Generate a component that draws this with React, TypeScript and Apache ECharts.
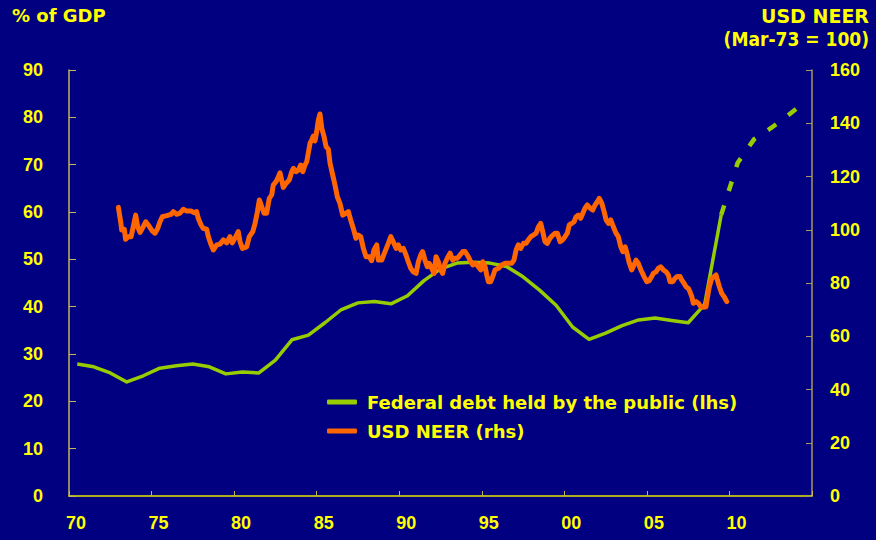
import React, { useEffect, useRef } from "react";
import * as echarts from "echarts";

const debtYears = [
  1970.5, 1971.5, 1972.5, 1973.5, 1974.5, 1975.5, 1976.5, 1977.5, 1978.5, 1979.5,
  1980.5, 1981.5, 1982.5, 1983.5, 1984.5, 1985.5, 1986.5, 1987.5, 1988.5, 1989.5,
  1990.5, 1991.5, 1992.5, 1993.5, 1994.5, 1995.5, 1996.5, 1997.5, 1998.5, 1999.5,
  2000.5, 2001.5, 2002.5, 2003.5, 2004.5, 2005.5, 2006.5, 2007.5, 2008.5, 2009.5,
];
const debtValues = [
  27.9, 27.3, 26.0, 24.1, 25.4, 27.0, 27.5, 27.9, 27.3, 25.8,
  26.2, 26.0, 28.7, 33.0, 34.0, 36.6, 39.4, 40.8, 41.1, 40.6,
  42.3, 45.5, 48.0, 49.2, 49.4, 49.2, 48.5, 46.3, 43.5, 40.3,
  35.7, 33.1, 34.4, 36.0, 37.2, 37.6, 37.1, 36.6, 40.5, 59.4,
];
const projYears = [2009.5, 2010.5, 2011.5, 2012.5, 2013.5, 2014.5];
const projValues = [59.4, 70.4, 75.4, 77.7, 80.3, 83.0];

const neerDates = [
  1972.99, 1973.13, 1973.19, 1973.35, 1973.43, 1973.59, 1973.76, 1973.89, 1974.04, 1974.16,
  1974.3, 1974.44, 1974.65, 1974.85, 1975.05, 1975.21, 1975.37, 1975.51, 1975.65, 1975.92,
  1976.18, 1976.32, 1976.52, 1976.72, 1976.92, 1977.13, 1977.39, 1977.59, 1977.73, 1977.83,
  1978.0, 1978.13, 1978.34, 1978.44, 1978.6, 1978.74, 1978.95, 1979.15, 1979.35, 1979.55,
  1979.75, 1979.89, 1980.1, 1980.25, 1980.36, 1980.5, 1980.76, 1980.92, 1981.13, 1981.27,
  1981.41, 1981.53, 1981.67, 1981.81, 1981.97, 1982.13, 1982.28, 1982.37, 1982.54, 1982.68,
  1982.78, 1982.88, 1982.98, 1983.14, 1983.34, 1983.49, 1983.59, 1983.75, 1983.89, 1984.03,
  1984.16, 1984.29, 1984.4, 1984.49, 1984.6, 1984.7, 1984.8, 1984.9, 1985.0, 1985.1,
  1985.2, 1985.31, 1985.45, 1985.57, 1985.71, 1985.81, 1985.97, 1986.11, 1986.25, 1986.41,
  1986.58, 1986.78, 1986.92, 1987.06, 1987.22, 1987.38, 1987.52, 1987.67, 1987.83, 1987.99,
  1988.19, 1988.33, 1988.47, 1988.64, 1988.73, 1988.94, 1989.14, 1989.34, 1989.49, 1989.64,
  1989.81, 1989.95, 1990.09, 1990.25, 1990.41, 1990.55, 1990.7, 1990.85, 1991.02, 1991.16,
  1991.3, 1991.42, 1991.56, 1991.7, 1991.82, 1991.97, 1992.11, 1992.23, 1992.37, 1992.51,
  1992.63, 1992.77, 1992.91, 1993.08, 1993.24, 1993.38, 1993.52, 1993.68, 1993.85, 1993.99,
  1994.13, 1994.29, 1994.45, 1994.65, 1994.79, 1994.94, 1995.06, 1995.2, 1995.3, 1995.4,
  1995.54, 1995.66, 1995.8, 1996.0, 1996.21, 1996.41, 1996.61, 1996.81, 1996.95, 1997.08,
  1997.21, 1997.36, 1997.52, 1997.68, 1997.82, 1997.97, 1998.12, 1998.29, 1998.43, 1998.57,
  1998.69, 1998.83, 1998.97, 1999.13, 1999.3, 1999.44, 1999.58, 1999.74, 1999.9, 2000.04,
  2000.18, 2000.3, 2000.45, 2000.59, 2000.71, 2000.85, 2000.99, 2001.12, 2001.25, 2001.39,
  2001.56, 2001.72, 2001.86, 2002.0, 2002.12, 2002.27, 2002.41, 2002.53, 2002.67, 2002.81,
  2002.97, 2003.13, 2003.27, 2003.42, 2003.54, 2003.68, 2003.82, 2003.94, 2004.08, 2004.22,
  2004.34, 2004.48, 2004.64, 2004.83, 2004.99, 2005.15, 2005.29, 2005.39, 2005.55, 2005.69,
  2005.84, 2006.0, 2006.16, 2006.3, 2006.4, 2006.57, 2006.71, 2006.84, 2007.01, 2007.11,
  2007.25, 2007.37, 2007.51, 2007.61, 2007.72, 2007.81, 2007.98, 2008.12, 2008.26, 2008.42,
  2008.58, 2008.66, 2008.78, 2008.93, 2009.07, 2009.19, 2009.27, 2009.39, 2009.53, 2009.67,
  2009.84,
];
const neerValues = [
  108.4, 103.0, 99.9, 100.2, 96.4, 97.4, 97.4, 101.1, 105.5, 101.1,
  99.0, 100.5, 103.0, 101.4, 99.5, 98.7, 100.5, 103.0, 104.9, 105.3,
  105.8, 106.8, 105.8, 106.2, 107.7, 107.0, 107.0, 106.4, 106.8, 104.3,
  101.8, 100.5, 100.2, 97.4, 94.5, 92.4, 94.3, 94.6, 96.2, 95.1,
  97.4, 95.1, 97.4, 99.3, 95.5, 93.0, 93.6, 97.4, 99.3, 102.4,
  106.8, 111.2, 108.7, 106.2, 106.2, 111.8, 113.1, 116.8, 118.1, 119.9,
  121.4, 118.7, 115.9, 117.4, 118.7, 121.8, 123.1, 121.8, 122.4, 124.3,
  121.8, 124.3, 125.6, 128.7, 132.5, 133.7, 135.2, 133.4, 136.8, 141.2,
  143.5, 138.1, 134.9, 131.2, 130.2, 125.0, 120.6, 116.8, 112.4, 109.9,
  105.5, 106.2, 106.8, 103.7, 100.5, 96.8, 98.0, 97.4, 93.0, 89.9,
  89.9, 88.4, 92.4, 94.3, 88.6, 88.6, 91.8, 94.9, 97.4, 95.5,
  93.0, 94.3, 92.4, 93.0, 90.5, 88.0, 85.5, 84.2, 83.6, 88.0,
  90.5, 91.8, 88.6, 86.1, 87.4, 85.5, 83.6, 89.9, 88.0, 84.9,
  83.6, 87.4, 89.3, 91.2, 88.6, 89.3, 89.3, 90.5, 91.8, 91.8,
  90.5, 88.6, 86.8, 87.4, 86.1, 84.9, 88.0, 86.1, 83.0, 80.5,
  80.5, 82.4, 84.9, 85.5, 86.8, 87.4, 87.4, 87.4, 88.6, 92.4,
  94.3, 93.0, 94.9, 94.9, 96.2, 97.4, 98.0, 98.7, 101.1, 102.4,
  99.3, 95.5, 94.9, 96.8, 98.0, 98.7, 98.7, 95.5, 96.2, 97.4,
  98.7, 101.8, 102.4, 103.0, 104.9, 105.5, 104.3, 106.2, 108.1, 109.3,
  108.1, 107.4, 109.3, 110.5, 111.8, 109.9, 106.8, 103.7, 102.4, 103.7,
  101.1, 98.7, 97.4, 93.6, 91.8, 93.6, 90.5, 87.4, 84.9, 86.8,
  88.6, 87.4, 84.9, 82.4, 80.5, 80.9, 82.4, 83.6, 84.2, 85.5,
  86.1, 84.9, 84.2, 83.0, 80.5, 80.5, 81.8, 82.4, 82.4, 81.1,
  79.9, 78.6, 78.0, 76.7, 74.9, 72.4, 73.0, 72.4, 71.1, 70.9,
  71.1, 74.3, 78.6, 81.8, 82.4, 83.0, 81.1, 78.6, 76.1, 74.9,
  73.0,
];

const leftTicks = { min: 0, max: 90, interval: 10 };
const rightTicks = { min: 0, max: 160, interval: 20 };
const xTicks = { min: 1970, max: 2015, interval: 5 };

const DEBT_NAME = "Federal debt held by the public (lhs)";
const NEER_NAME = "USD NEER (rhs)";

const YELLOW = "#ffff00";
const GREEN = "#99cc00";
const ORANGE = "#ff6600";
const BG = "#000080";

export default function App() {
  const ref = useRef<HTMLDivElement>(null);
  useEffect(() => {
    if (!ref.current) return;
    const chart = echarts.init(ref.current, undefined, { renderer: "svg" });
    const labelFont = {
      color: YELLOW,
      fontFamily: "Liberation Sans",
      fontWeight: "bold" as const,
      fontSize: 18,
    };
    chart.setOption({
      animation: false,
      backgroundColor: BG,
      grid: { left: 69, right: 64, top: 70, bottom: 44, containLabel: false },
      legend: {
        data: [DEBT_NAME, NEER_NAME],
        orient: "vertical",
        left: 322,
        top: 388,
        itemWidth: 30,
        itemHeight: 5,
        itemGap: 11,
        icon: "roundRect",
        textStyle: {
          color: YELLOW,
          fontFamily: "DejaVu Sans",
          fontWeight: "bold",
          fontSize: 18,
          lineHeight: 18,
          padding: [0, 0, 0, 5],
        },
      },
      graphic: [
        {
          type: "text",
          left: 12,
          top: 6,
          style: {
            text: "% of GDP",
            fill: YELLOW,
            font: "bold 18px 'DejaVu Sans'",
          },
        },
        {
          type: "text",
          right: 7,
          top: 6,
          style: {
            text: "USD NEER",
            fill: YELLOW,
            font: "bold 19px 'DejaVu Sans'",
          },
        },
        {
          type: "text",
          right: 7,
          top: 29,
          style: {
            text: "(Mar-73 = 100)",
            fill: YELLOW,
            font: "bold 19px 'DejaVu Sans Condensed'",
          },
        },
      ],
      xAxis: {
        type: "value",
        min: xTicks.min,
        max: xTicks.max,
        interval: xTicks.interval,
        splitLine: { show: false },
        axisLine: { show: true, lineStyle: { color: "#e6e600", width: 1.5 } },
        axisTick: { show: true, inside: true, length: 5, lineStyle: { color: "#c8b45a" } },
        axisLabel: {
          ...labelFont,
          margin: 18,
          padding: [0, 0, 0, 14],
          formatter: (v: number) =>
            v >= 2015 ? "" : String(Math.round(v) % 100).padStart(2, "0"),
        },
      },
      yAxis: [
        {
          type: "value",
          position: "left",
          min: leftTicks.min,
          max: leftTicks.max,
          interval: leftTicks.interval,
          splitLine: { show: false },
          axisLine: { show: true, lineStyle: { color: "#c8b45a", width: 1.5 } },
          axisTick: { show: true, inside: true, length: 7, lineStyle: { color: "#c8b45a" } },
          axisLabel: { ...labelFont, margin: 26 },
        },
        {
          type: "value",
          position: "right",
          min: rightTicks.min,
          max: rightTicks.max,
          interval: rightTicks.interval,
          splitLine: { show: false },
          axisLine: { show: true, lineStyle: { color: "#a8985a", width: 1.5 } },
          axisTick: { show: true, inside: true, length: 6, lineStyle: { color: "#a8985a" } },
          axisLabel: { ...labelFont, margin: 18 },
        },
      ],
      series: [
        {
          name: DEBT_NAME,
          type: "line",
          yAxisIndex: 0,
          showSymbol: false,
          symbol: "none",
          color: GREEN,
          lineStyle: { color: GREEN, width: 3.5, join: "round" },
          data: debtYears.map((y, i) => [y, debtValues[i]]),
          z: 2,
        },
        {
          name: "Projection",
          type: "line",
          yAxisIndex: 0,
          showSymbol: false,
          symbol: "none",
          color: GREEN,
          lineStyle: { color: GREEN, width: 4.5, type: [10, 15] },
          data: projYears.map((y, i) => [y, projValues[i]]),
          z: 2,
        },
        {
          name: NEER_NAME,
          type: "line",
          yAxisIndex: 1,
          showSymbol: false,
          symbol: "none",
          color: ORANGE,
          lineStyle: { color: ORANGE, width: 5, join: "round", cap: "round" },
          data: neerDates.map((d, i) => [d, neerValues[i]]),
          z: 3,
        },
      ],
    });
    return () => chart.dispose();
  }, []);
  return (
    <div
      ref={ref}
      style={{ position: "fixed", left: 0, top: 0, width: 876, height: 540 }}
    />
  );
}
